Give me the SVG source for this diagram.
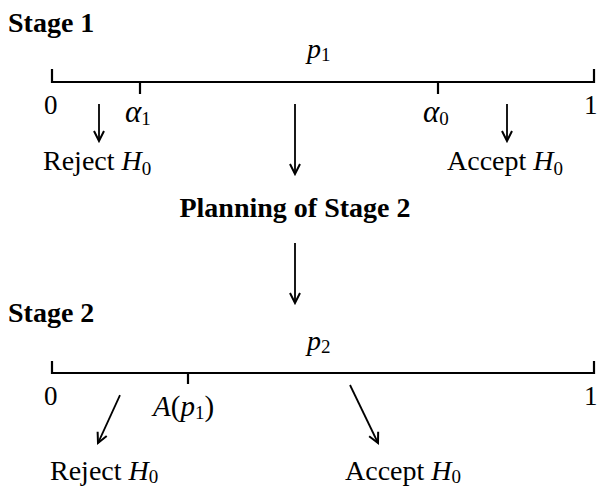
<svg xmlns="http://www.w3.org/2000/svg" width="598" height="488" viewBox="0 0 598 488">
<defs>
<marker id="ah" markerUnits="userSpaceOnUse" markerWidth="14" markerHeight="14" viewBox="-12 -7 14 14" refX="0" refY="0" orient="auto">
<path d="M-10,-5 L0,0 L-10,5" fill="none" stroke="#000" stroke-width="2"/>
</marker>
</defs>
<style>
text{font-family:"Liberation Serif","Times New Roman",serif;fill:#000}
.b{font-weight:bold;font-size:28px}
.t{font-size:28px}
.n{font-size:27px}
.i{font-style:italic}
.al{font-size:31px;font-style:italic}
.s{font-size:19px;font-style:normal}
.ax{fill:none;stroke:#000;stroke-width:2.2}
.ar{fill:none;stroke:#000;stroke-width:1.8;marker-end:url(#ah)}
</style>
<rect width="598" height="488" fill="#fff"/>
<g id="stage1-title"><text class="b" x="8" y="32">Stage 1</text></g>
<g id="stage1-axis">
<path class="ax" d="M52,69 V82 H594 V69 M140,82 V94"/>
<path class="ax" d="M438,82 V94"/>
<text class="t i" x="307" y="58">p<tspan class="s" dy="3">1</tspan></text>
<text class="n" x="44" y="114">0</text>
<text class="n" x="584" y="114">1</text>
<text class="al" x="125" y="122">α<tspan class="s" dy="3">1</tspan></text>
<text class="al" x="423" y="122">α<tspan class="s" dy="3">0</tspan></text>
</g>
<g id="stage1-reject"><text class="t" x="43" y="170">Reject <tspan class="i">H</tspan><tspan class="s" dy="5">0</tspan></text></g>
<g id="stage1-accept"><text class="t" x="447" y="170">Accept <tspan class="i">H</tspan><tspan class="s" dy="5">0</tspan></text></g>
<g id="planning"><text class="b" x="295" y="217" text-anchor="middle">Planning of Stage 2</text></g>
<g id="stage2-title"><text class="b" x="8" y="322">Stage 2</text></g>
<g id="stage2-axis">
<path class="ax" d="M52,361 V373 H594 V361 M188,373 V384"/>
<text class="t i" x="307" y="350">p<tspan class="s" dy="3">2</tspan></text>
<text class="n" x="44" y="405">0</text>
<text class="n" x="584" y="405">1</text>
<text class="t i" x="153" y="416" style="font-size:29px">A<tspan style="font-style:normal">(</tspan>p<tspan class="s" dy="3">1</tspan><tspan dy="-3" style="font-style:normal">)</tspan></text>
</g>
<g id="stage2-reject"><text class="t" x="50" y="480">Reject <tspan class="i">H</tspan><tspan class="s" dy="3">0</tspan></text></g>
<g id="stage2-accept"><text class="t" x="345" y="480">Accept <tspan class="i">H</tspan><tspan class="s" dy="3">0</tspan></text></g>
<g id="connectors">
<line class="ar" x1="99" y1="104" x2="99" y2="141"/>
<line class="ar" x1="295" y1="104" x2="295" y2="174"/>
<line class="ar" x1="507" y1="104" x2="507" y2="141"/>
<line class="ar" x1="295" y1="243" x2="295" y2="303"/>
<line class="ar" x1="120" y1="395" x2="98" y2="443"/>
<line class="ar" x1="350" y1="385" x2="378" y2="443"/>
</g>
</svg>
